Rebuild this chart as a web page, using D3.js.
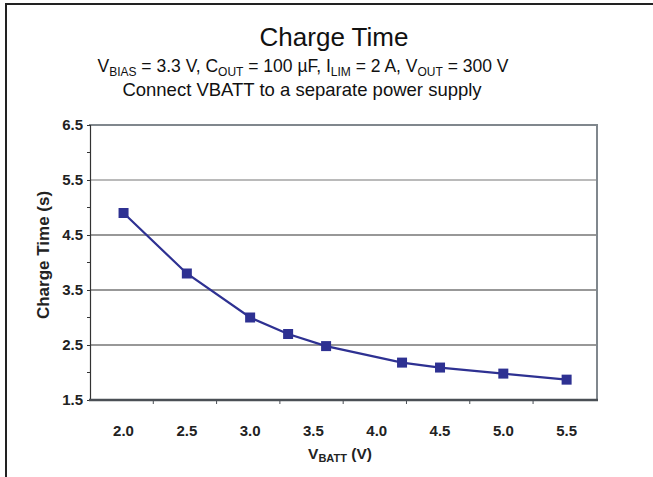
<!DOCTYPE html>
<html>
<head>
<meta charset="utf-8">
<script src="https://cdn.jsdelivr.net/npm/d3@7"></script>
<style>
  html, body { margin: 0; padding: 0; background: #fff; }
  svg { display: block; }
  text { font-family: "Liberation Sans", Arial, sans-serif; }
</style>
</head>
<body>
<svg id="chart" width="653" height="477"></svg>
<script>
// ---- data ----
const vbatt = [2.0, 2.5, 3.0, 3.3, 3.6, 4.2, 4.5, 5.0, 5.5];
const chargeTime = [4.9, 3.8, 3.0, 2.7, 2.48, 2.18, 2.09, 1.98, 1.87];
const xTickLabels = [2.0, 2.5, 3.0, 3.5, 4.0, 4.5, 5.0, 5.5];
const xTickMarks = [2.235, 2.735, 3.235, 3.735, 4.235, 4.735, 5.235];
const yTickLabels = [1.5, 2.5, 3.5, 4.5, 5.5, 6.5];
const yMinorTicks = [2.0, 3.0, 4.0, 5.0, 6.0];

const svg = d3.select("#chart");
const W = 653, H = 477;
const pLeft = 90, pRight = 597, pTop = 125, pBottom = 400;

const x = d3.scaleLinear().domain([1.735, 5.74]).range([pLeft, pRight]);
const y = d3.scaleLinear().domain([1.5, 6.5]).range([pBottom, pTop]);

// outer frame (top + left)
svg.append("line").attr("x1", 5).attr("x2", W).attr("y1", 4).attr("y2", 4)
  .attr("stroke", "#222").attr("stroke-width", 2);
svg.append("line").attr("x1", 6).attr("x2", 6).attr("y1", 3).attr("y2", H)
  .attr("stroke", "#222").attr("stroke-width", 2);

// titles
svg.append("text").attr("x", 334).attr("y", 46).attr("text-anchor", "middle")
  .attr("font-size", 26).attr("fill", "#111").text("Charge Time");

const sub = svg.append("text").attr("x", 303).attr("y", 72).attr("text-anchor", "middle")
  .attr("font-size", 17.5).attr("fill", "#111");
const parts = [["V", false], ["BIAS", true], [" = 3.3 V, C", false], ["OUT", true],
  [" = 100 µF, I", false], ["LIM", true], [" = 2 A, V", false], ["OUT", true], [" = 300 V", false]];
let shifted = false;
parts.forEach(([t, isSub]) => {
  const ts = sub.append("tspan").text(t);
  if (isSub) { ts.attr("font-size", 12).attr("dy", shifted ? 0 : 4); shifted = true; }
  else { if (shifted) ts.attr("dy", -4); shifted = false; }
});

svg.append("text").attr("x", 302).attr("y", 96).attr("text-anchor", "middle")
  .attr("font-size", 18.5).attr("fill", "#111").text("Connect VBATT to a separate power supply");

// gridlines
const g = svg.append("g");
g.selectAll("line.grid").data(yTickLabels.filter(v => v > 1.5 && v < 6.5)).enter()
  .append("line").attr("class", "grid")
  .attr("x1", pLeft).attr("x2", pRight)
  .attr("y1", d => y(d)).attr("y2", d => y(d))
  .attr("stroke", d => d === 5.5 ? "#777" : "#333").attr("stroke-width", 1.2);

// plot frame: top & right gray
g.append("line").attr("x1", pLeft - 1).attr("x2", pRight + 1).attr("y1", y(6.5)).attr("y2", y(6.5))
  .attr("stroke", "#80878d").attr("stroke-width", 2);
g.append("line").attr("x1", pRight).attr("x2", pRight).attr("y1", y(6.5)).attr("y2", pBottom)
  .attr("stroke", "#80878d").attr("stroke-width", 2);

// y axis
const yAxis = d3.axisLeft(y).tickValues(yTickLabels).tickFormat(d3.format(".1f"))
  .tickSize(3).tickPadding(4);
const ya = svg.append("g").attr("transform", `translate(${pLeft},0)`).call(yAxis);
ya.select(".domain").attr("stroke", "#333").attr("stroke-width", 1.2);
ya.selectAll(".tick line").attr("stroke", "#333");
ya.selectAll("text").attr("font-size", 15).attr("font-weight", "bold").attr("fill", "#222")
  .attr("font-family", "Liberation Sans, Arial, sans-serif");
ya.selectAll("line.minor").data(yMinorTicks).enter().append("line").attr("class", "minor")
  .attr("x1", -3).attr("x2", 0).attr("y1", d => y(d)).attr("y2", d => y(d))
  .attr("stroke", "#333");

// x axis
const xa = svg.append("g").attr("transform", `translate(0,${pBottom})`);
xa.append("line").attr("x1", pLeft - 1).attr("x2", pRight + 1).attr("y1", 0).attr("y2", 0)
  .attr("stroke", "#4a4f55").attr("stroke-width", 2.4);
xa.selectAll("line.tk").data(xTickMarks).enter().append("line").attr("class", "tk")
  .attr("x1", d => x(d)).attr("x2", d => x(d)).attr("y1", 0).attr("y2", 4)
  .attr("stroke", "#4a4f55");
xa.selectAll("text").data(xTickLabels).enter().append("text")
  .attr("x", d => x(d)).attr("y", 36).attr("text-anchor", "middle")
  .attr("font-size", 15).attr("font-weight", "bold").attr("fill", "#222")
  .text(d => d3.format(".1f")(d));

// axis titles
const xt = svg.append("text").attr("x", 340).attr("y", 459).attr("text-anchor", "middle")
  .attr("font-size", 15.5).attr("font-weight", "bold").attr("fill", "#222");
xt.append("tspan").text("V");
xt.append("tspan").attr("font-size", 11).attr("dy", 3).text("BATT");
xt.append("tspan").attr("dy", -3).text(" (V)");

svg.append("text").attr("transform", "translate(49,255) rotate(-90)")
  .attr("text-anchor", "middle").attr("font-size", 17).attr("font-weight", "bold")
  .attr("fill", "#222").text("Charge Time (s)");

// series
const line = d3.line().x((d, i) => x(vbatt[i])).y(d => y(d));
svg.append("path").datum(chargeTime).attr("d", line)
  .attr("fill", "none").attr("stroke", "#2e3192").attr("stroke-width", 2.2);
svg.selectAll("rect.pt").data(chargeTime).enter().append("rect").attr("class", "pt")
  .attr("x", (d, i) => x(vbatt[i]) - 5).attr("y", d => y(d) - 5)
  .attr("width", 10).attr("height", 10).attr("fill", "#2e3192");
</script>
</body>
</html>
